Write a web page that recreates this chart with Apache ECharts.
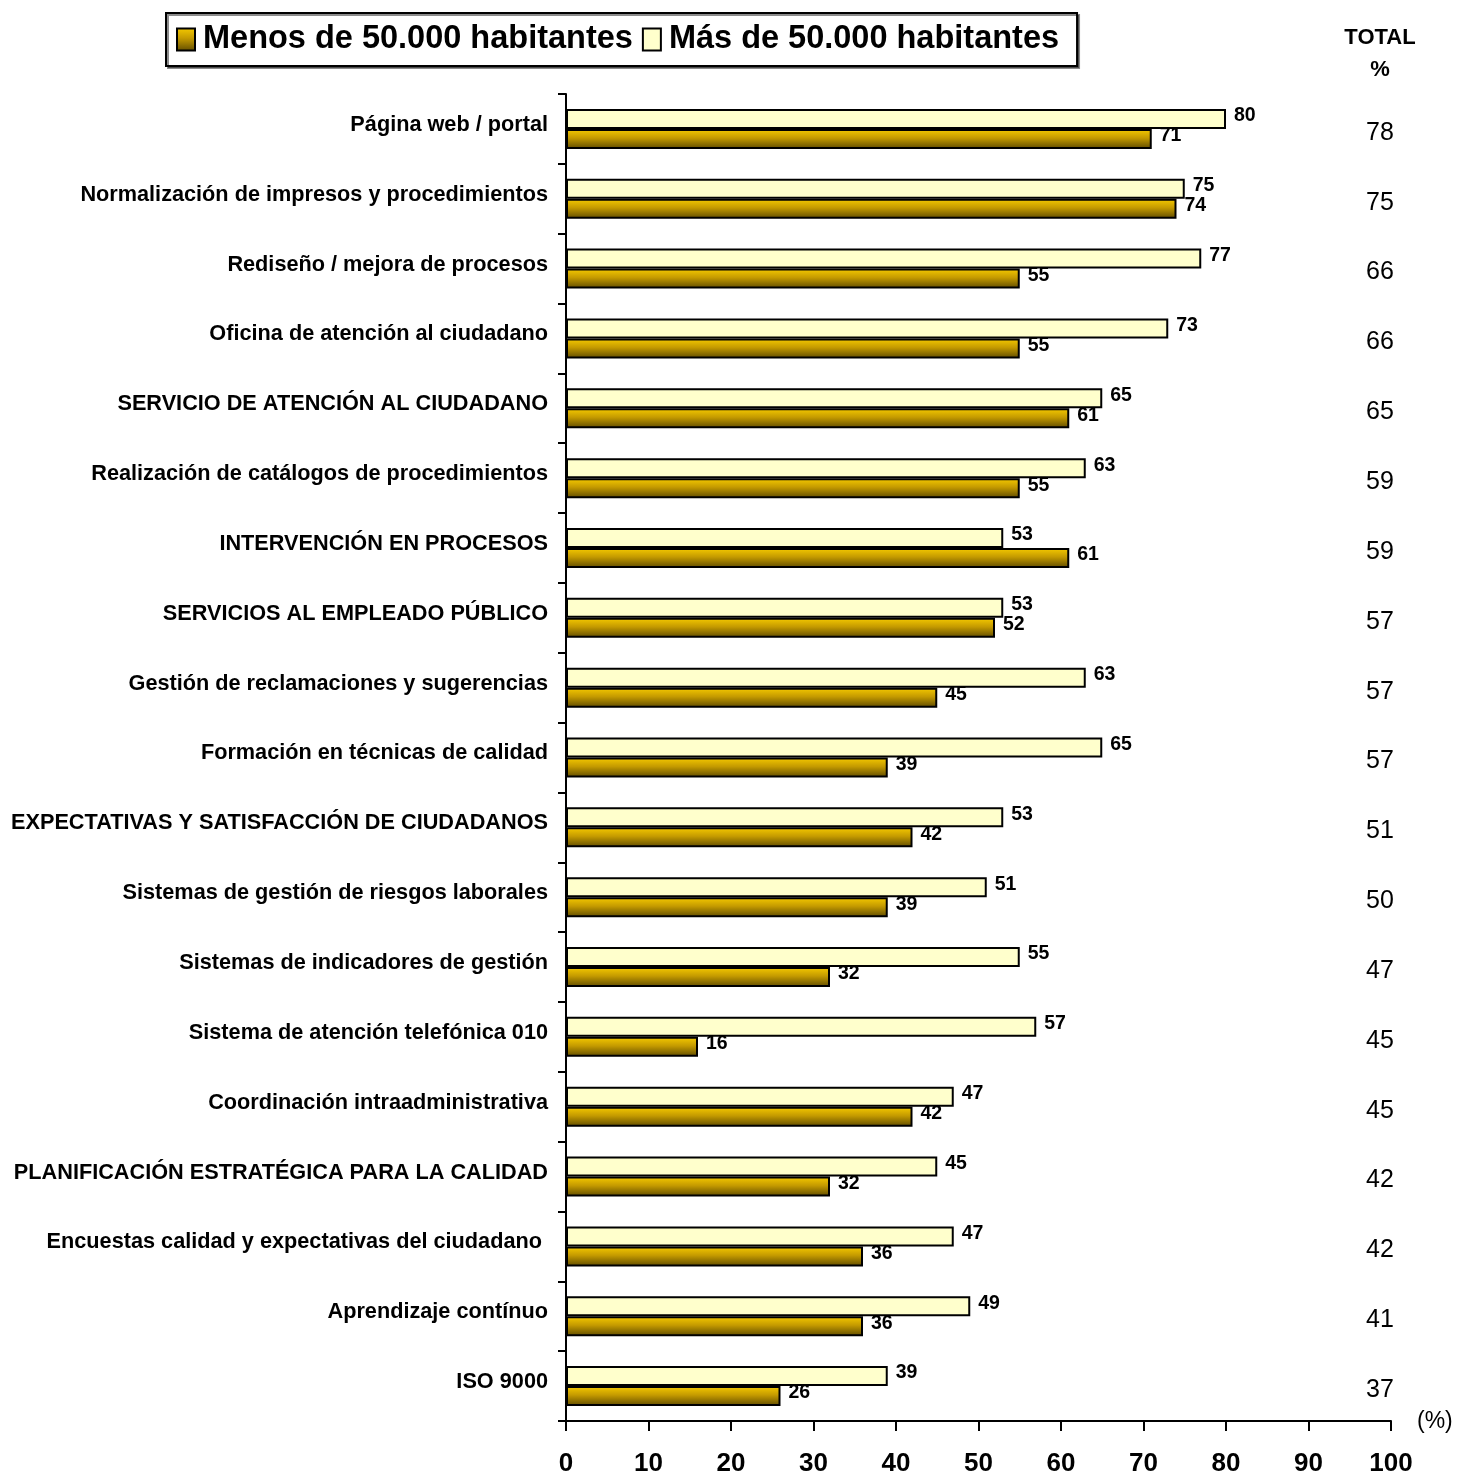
<!DOCTYPE html>
<html>
<head>
<meta charset="utf-8">
<script src="https://cdn.jsdelivr.net/npm/echarts@6/dist/echarts.min.js"></script>
<style>
  html, body { margin: 0; padding: 0; background: #fff; }
  #chart { width: 1459px; height: 1481px; }
</style>
</head>
<body>
<div id="chart"></div>
<script>
// Actuaciones de calidad por tamaño de municipio (%)
const categories = [
  'Página web / portal',
  'Normalización de impresos y procedimientos',
  'Rediseño / mejora de procesos',
  'Oficina de atención al ciudadano',
  'SERVICIO DE ATENCIÓN AL CIUDADANO',
  'Realización de catálogos de procedimientos',
  'INTERVENCIÓN EN PROCESOS',
  'SERVICIOS AL EMPLEADO PÚBLICO',
  'Gestión de reclamaciones y sugerencias',
  'Formación en técnicas de calidad',
  'EXPECTATIVAS Y SATISFACCIÓN DE CIUDADANOS',
  'Sistemas de gestión de riesgos laborales',
  'Sistemas de indicadores de gestión',
  'Sistema de atención telefónica 010',
  'Coordinación intraadministrativa',
  'PLANIFICACIÓN ESTRATÉGICA PARA LA CALIDAD',
  'Encuestas calidad y expectativas del ciudadano ',
  'Aprendizaje contínuo',
  'ISO 9000'
];
const masDe50000 = [80, 75, 77, 73, 65, 63, 53, 53, 63, 65, 53, 51, 55, 57, 47, 45, 47, 49, 39];
const menosDe50000 = [71, 74, 55, 55, 61, 55, 61, 52, 45, 39, 42, 39, 32, 16, 42, 32, 36, 36, 26];
const totalPct = [78, 75, 66, 66, 65, 59, 59, 57, 57, 57, 51, 50, 47, 45, 45, 42, 42, 41, 37];
const xTicks = [0, 10, 20, 30, 40, 50, 60, 70, 80, 90, 100];

const FONT = 'Liberation Sans, Arial, sans-serif';
const chart = echarts.init(document.getElementById('chart'), null, { renderer: 'canvas' });

const darkFill = new echarts.graphic.LinearGradient(0, 0, 0, 1, [
  { offset: 0, color: '#F7CB00' },
  { offset: 0.45, color: '#C49A00' },
  { offset: 1, color: '#5E4A00' }
]);
const lightFill = '#FFFFCC';

const valueLabel = {
  show: true,
  position: 'right',
  distance: 8,
  offset: [0, -3],
  fontFamily: FONT,
  fontWeight: 'bold',
  fontSize: 19.5,
  color: '#000'
};

chart.setOption({
  animation: false,
  backgroundColor: '#fff',
  legend: {
    data: [
      { name: 'Menos de 50.000 habitantes', icon: 'rect' },
      { name: 'Más de 50.000 habitantes', icon: 'rect' }
    ],
    left: 166,
    top: 13,
    padding: [10, 18, 10, 10],
    itemWidth: 18,
    itemHeight: 22,
    itemGap: 9,
    borderColor: '#000',
    borderWidth: 2,
    shadowColor: 'rgba(0,0,0,0.45)',
    shadowOffsetX: 2,
    shadowOffsetY: 2,
    backgroundColor: '#fff',
    textStyle: { fontFamily: FONT, fontWeight: 'bold', fontSize: 32.5, color: '#000', padding: [0, 0, 0, 3] },
    selectedMode: false
  },
  grid: { left: 566, right: 68, top: 94, bottom: 60, containLabel: false, outerBoundsMode: 'none' },
  graphic: [
    {
      type: 'text',
      x: 1380,
      y: 22,
      style: {
        text: 'TOTAL\n%',
        align: 'center',
        verticalAlign: 'top',
        fontFamily: FONT,
        fontWeight: 'bold',
        fontSize: 22,
        lineHeight: 32,
        fill: '#000'
      }
    }
  ],
  xAxis: {
    type: 'value',
    min: 0,
    max: 100,
    interval: 10,
    name: '(%)',
    nameLocation: 'end',
    nameGap: 26,
    nameTextStyle: { fontFamily: FONT, fontSize: 23, color: '#000', verticalAlign: 'top', lineHeight: 2 },
    axisLine: { show: true, lineStyle: { color: '#000', width: 2 } },
    axisTick: { show: true, inside: false, length: 10, lineStyle: { color: '#000', width: 2 } },
    axisLabel: {
      margin: 30,
      fontFamily: FONT,
      fontWeight: 'bold',
      fontSize: 26,
      color: '#000',
      formatter: v => (xTicks.indexOf(v) >= 0 ? String(v) : '')
    },
    splitLine: { show: false }
  },
  yAxis: [
    {
      type: 'category',
      data: categories,
      inverse: true,
      axisLine: { show: true, onZero: false, lineStyle: { color: '#000', width: 2 } },
      axisTick: { show: true, length: 8, lineStyle: { color: '#000', width: 2 } },
      axisLabel: {
        margin: 18,
        fontFamily: FONT,
        fontWeight: 'bold',
        fontSize: 21.7,
        color: '#000',
        verticalAlign: 'bottom',
        lineHeight: 8
      }
    },
    {
      type: 'category',
      data: totalPct.map(String),
      inverse: true,
      position: 'right',
      axisLine: { show: false },
      axisTick: { show: false },
      axisLabel: {
        margin: -11,
        align: 'center',
        verticalAlign: 'top',
        lineHeight: 8,
        fontFamily: FONT,
        fontSize: 25,
        color: '#000'
      }
    }
  ],
  series: [
    {
      name: 'Más de 50.000 habitantes',
      type: 'bar',
      data: masDe50000,
      barWidth: 20,
      barGap: '0%',
      itemStyle: { color: lightFill, borderColor: '#000', borderWidth: 2 },
      label: valueLabel
    },
    {
      name: 'Menos de 50.000 habitantes',
      type: 'bar',
      data: menosDe50000,
      barWidth: 20,
      barGap: '0%',
      itemStyle: { color: darkFill, borderColor: '#000', borderWidth: 2 },
      label: valueLabel
    }
  ]
});
</script>
</body>
</html>
